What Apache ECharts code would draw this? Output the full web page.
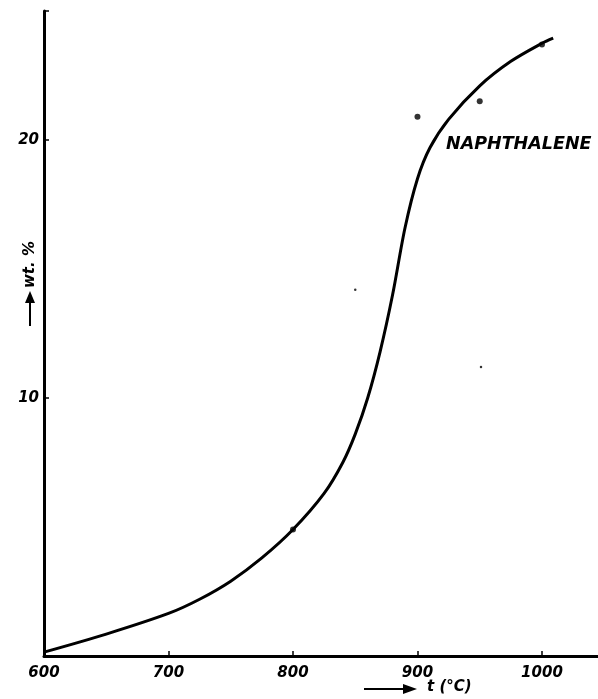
<!DOCTYPE html>
<html>
<head>
<meta charset="utf-8">
<script src="https://cdn.jsdelivr.net/npm/echarts@6/dist/echarts.min.js"></script>
<style>
html,body{margin:0;padding:0;background:#fff;}
#chart{width:598px;height:699px;}
</style>
</head>
<body>
<div id="chart"></div>
<script>
// Smooth curve: temperature (°C) and wt. %
const curveT = [600, 650, 700, 725, 750, 775, 800, 825, 840, 850, 860, 870, 880, 890, 900, 910, 925, 950, 975, 1000, 1009];
const curveW = [0.15, 0.85, 1.65, 2.2, 2.9, 3.8, 4.9, 6.3, 7.5, 8.6, 10.0, 11.8, 14.0, 16.6, 18.5, 19.7, 20.8, 22.1, 23.05, 23.75, 23.95];
// Measured points
const pointT = [800, 900, 950, 1000];
const pointW = [4.9, 20.9, 21.5, 23.7];
// Small specks
const speckT = [850, 951];
const speckW = [14.2, 11.2];
const xTicks = [600, 700, 800, 900, 1000];
const yTicks = [10, 20];
const seriesLabel = 'NAPHTHALENE';

const font = '"DejaVu Sans", sans-serif';
const chart = echarts.init(document.getElementById('chart'), null, {renderer: 'canvas'});
const option = {
  backgroundColor: '#fff',
  animation: false,
  grid: {left: 44, right: 0, top: 11, bottom: 43},
  xAxis: {
    type: 'value', min: 600, max: 1045, interval: 100,
    axisLine: {lineStyle: {color: '#000', width: 3}},
    axisTick: {inside: true, length: 5, lineStyle: {color: '#000', width: 1.5}},
    splitLine: {show: false},
    axisLabel: {
      color: '#000', fontFamily: font, fontWeight: 'bold', fontStyle: 'italic', fontSize: 15, margin: 10,
      showMaxLabel: false,
      formatter: v => xTicks.includes(v) ? String(v) : ''
    }
  },
  yAxis: {
    type: 'value', min: 0, max: 25, interval: 10,
    axisLine: {lineStyle: {color: '#000', width: 3}},
    axisTick: {inside: true, length: 5, lineStyle: {color: '#000', width: 1.5}},
    splitLine: {show: false},
    axisLabel: {
      color: '#000', fontFamily: font, fontWeight: 'bold', fontStyle: 'italic', fontSize: 15, margin: 5,
      formatter: v => yTicks.includes(v) ? String(v) : ''
    }
  },
  series: [
    {
      type: 'line', data: curveT.map((t, i) => [t, curveW[i]]),
      smooth: 0.3, showSymbol: false,
      lineStyle: {color: '#000', width: 3}
    },
    {
      type: 'scatter', data: pointT.map((t, i) => [t, pointW[i]]),
      symbolSize: 6, itemStyle: {color: '#000'}
    },
    {
      type: 'scatter', data: speckT.map((t, i) => [t, speckW[i]]),
      symbolSize: 2.5, itemStyle: {color: '#000'}
    }
  ],
  graphic: [
    {type: 'text', left: 446, top: 135, style: {text: seriesLabel, fill: '#000', font: 'italic bold 17.5px ' + font}},
    // x-axis title with arrow
    {type: 'line', shape: {x1: 364, y1: 689, x2: 405, y2: 689}, style: {stroke: '#000', lineWidth: 2}},
    {type: 'polygon', shape: {points: [[417, 689], [403, 684], [403, 694]]}, style: {fill: '#000'}},
    {type: 'text', left: 427, top: 680, style: {text: 't (°C)', fill: '#000', font: 'italic bold 15px ' + font}},
    // y-axis title with arrow (rotated, reading bottom to top)
    {type: 'group', x: 30, y: 290, rotation: Math.PI / 2, children: [
      {type: 'line', shape: {x1: -36, y1: 0, x2: -12, y2: 0}, style: {stroke: '#000', lineWidth: 2}},
      {type: 'polygon', shape: {points: [[-1, 0], [-13, -5], [-13, 5]]}, style: {fill: '#000'}},
      {type: 'text', x: 2, y: 0, style: {text: 'wt. %', fill: '#000', font: 'italic bold 15px ' + font, align: 'left', verticalAlign: 'middle'}}
    ]}
  ]
};
chart.setOption(option);
</script>
</body>
</html>
